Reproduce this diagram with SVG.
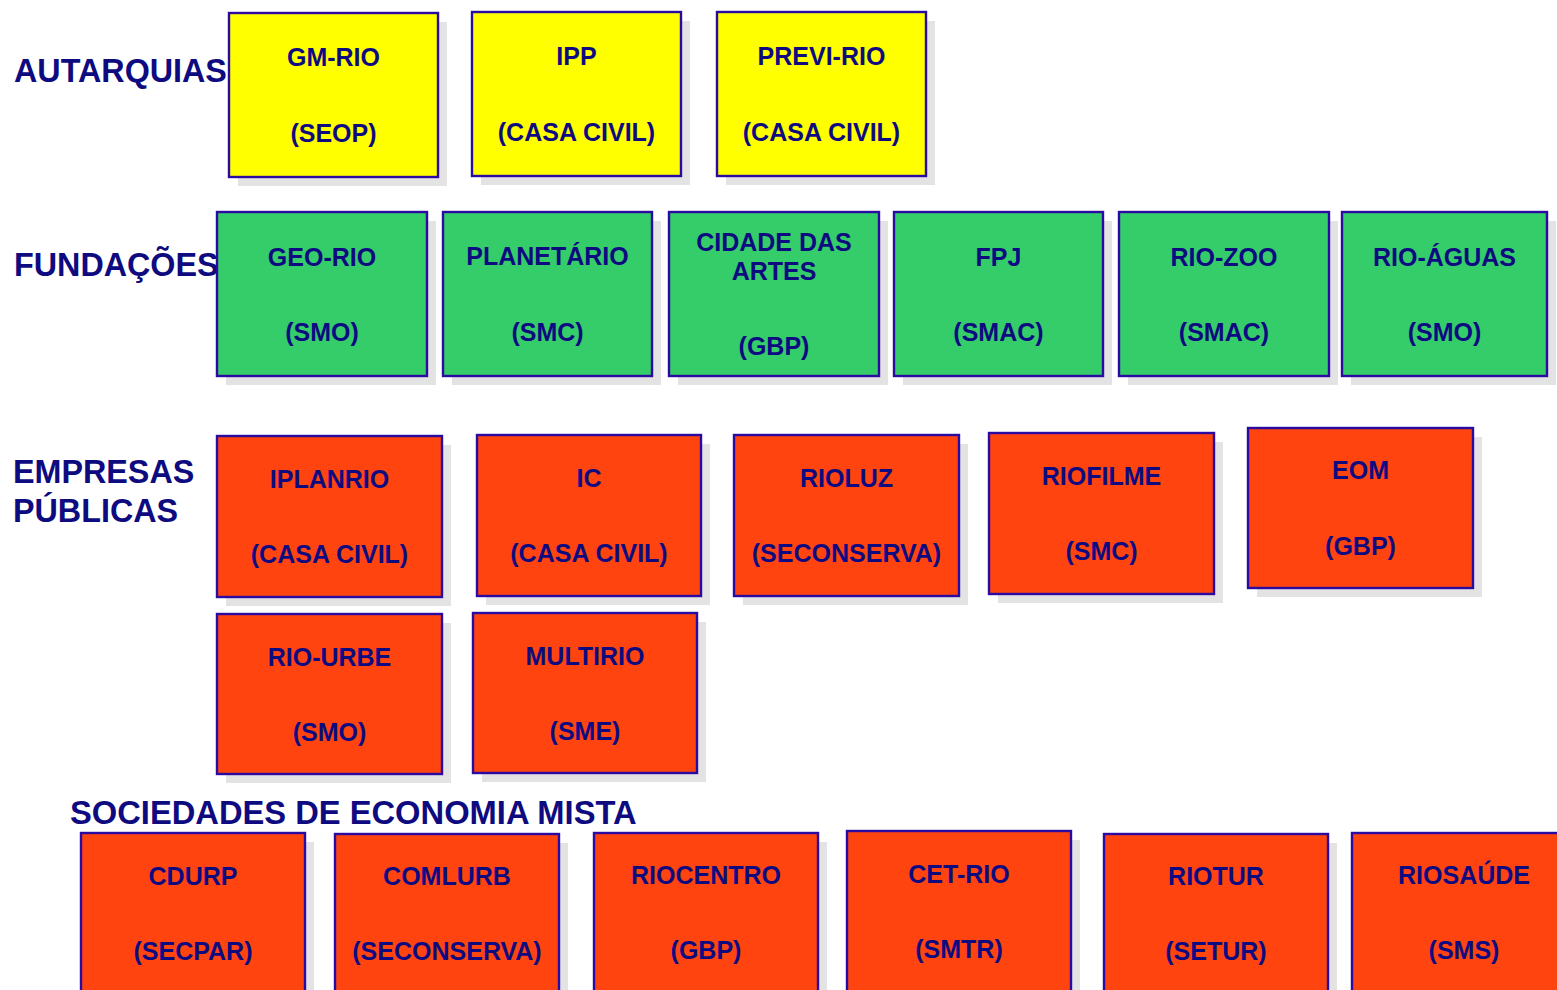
<svg xmlns="http://www.w3.org/2000/svg" width="1557" height="990" viewBox="0 0 1557 990">
<style>
.sh{fill:#e3e3e3}
.bx{stroke:#2a0aa0;stroke-width:2.4}
.y{fill:#ffff00}
.g{fill:#35cc6a}
.r{fill:#ff4410}
.t{font-family:"Liberation Sans",Arial,sans-serif;font-weight:bold;font-size:25px;fill:#0e0a80;text-anchor:middle}
.h{font-family:"Liberation Sans",Arial,sans-serif;font-weight:bold;font-size:32.3px;fill:#0e0a80}
</style>
<rect width="1557" height="990" fill="#ffffff"/>
<g id="labels">
<text class="h" x="14" y="82">AUTARQUIAS</text>
<text class="h" x="14" y="276">FUNDAÇÕES</text>
<text class="h" x="13" y="483">EMPRESAS</text>
<text class="h" x="13" y="522">PÚBLICAS</text>
<text class="h" x="70" y="824" style="font-size:32.7px">SOCIEDADES DE ECONOMIA MISTA</text>
</g>
<g id="connectors"></g>
<g id="gm-rio"><rect class="sh" x="238" y="22" width="209" height="164"/><rect class="bx y" x="229" y="13" width="209" height="164"/><text class="t" x="333.5" y="66">GM-RIO</text><text class="t" x="333.5" y="142">(SEOP)</text></g>
<g id="ipp"><rect class="sh" x="481" y="21" width="209" height="164"/><rect class="bx y" x="472" y="12" width="209" height="164"/><text class="t" x="576.5" y="65">IPP</text><text class="t" x="576.5" y="141">(CASA CIVIL)</text></g>
<g id="previ-rio"><rect class="sh" x="726" y="21" width="209" height="164"/><rect class="bx y" x="717" y="12" width="209" height="164"/><text class="t" x="821.5" y="65">PREVI-RIO</text><text class="t" x="821.5" y="141">(CASA CIVIL)</text></g>

<g id="geo-rio"><rect class="sh" x="226" y="221" width="210" height="164"/><rect class="bx g" x="217" y="212" width="210" height="164"/><text class="t" x="322" y="266">GEO-RIO</text><text class="t" x="322" y="341">(SMO)</text></g>
<g id="planetario"><rect class="sh" x="452" y="221" width="209" height="164"/><rect class="bx g" x="443" y="212" width="209" height="164"/><text class="t" x="547.5" y="265">PLANETÁRIO</text><text class="t" x="547.5" y="341">(SMC)</text></g>
<g id="cidade-das-artes"><rect class="sh" x="678" y="221" width="210" height="164"/><rect class="bx g" x="669" y="212" width="210" height="164"/><text class="t" x="774" y="251">CIDADE DAS</text><text class="t" x="774" y="280">ARTES</text><text class="t" x="774" y="355">(GBP)</text></g>
<g id="fpj"><rect class="sh" x="903" y="221" width="209" height="164"/><rect class="bx g" x="894" y="212" width="209" height="164"/><text class="t" x="998.5" y="266">FPJ</text><text class="t" x="998.5" y="341">(SMAC)</text></g>
<g id="rio-zoo"><rect class="sh" x="1128" y="221" width="210" height="164"/><rect class="bx g" x="1119" y="212" width="210" height="164"/><text class="t" x="1224" y="266">RIO-ZOO</text><text class="t" x="1224" y="341">(SMAC)</text></g>
<g id="rio-aguas"><rect class="sh" x="1351" y="221" width="205" height="164"/><rect class="bx g" x="1342" y="212" width="205" height="164"/><text class="t" x="1444.5" y="266">RIO-ÁGUAS</text><text class="t" x="1444.5" y="341">(SMO)</text></g>

<g id="iplanrio"><rect class="sh" x="226" y="445" width="225" height="161"/><rect class="bx r" x="217" y="436" width="225" height="161"/><text class="t" x="329.5" y="488">IPLANRIO</text><text class="t" x="329.5" y="563">(CASA CIVIL)</text></g>
<g id="ic"><rect class="sh" x="486" y="444" width="224" height="161"/><rect class="bx r" x="477" y="435" width="224" height="161"/><text class="t" x="589" y="487">IC</text><text class="t" x="589" y="562">(CASA CIVIL)</text></g>
<g id="rioluz"><rect class="sh" x="743" y="444" width="225" height="161"/><rect class="bx r" x="734" y="435" width="225" height="161"/><text class="t" x="846.5" y="487">RIOLUZ</text><text class="t" x="846.5" y="562">(SECONSERVA)</text></g>
<g id="riofilme"><rect class="sh" x="998" y="442" width="225" height="161"/><rect class="bx r" x="989" y="433" width="225" height="161"/><text class="t" x="1101.5" y="485">RIOFILME</text><text class="t" x="1101.5" y="560">(SMC)</text></g>
<g id="eom"><rect class="sh" x="1257" y="437" width="225" height="160"/><rect class="bx r" x="1248" y="428" width="225" height="160"/><text class="t" x="1360.5" y="479">EOM</text><text class="t" x="1360.5" y="555">(GBP)</text></g>
<g id="rio-urbe"><rect class="sh" x="226" y="623" width="225" height="160"/><rect class="bx r" x="217" y="614" width="225" height="160"/><text class="t" x="329.5" y="666">RIO-URBE</text><text class="t" x="329.5" y="741">(SMO)</text></g>
<g id="multirio"><rect class="sh" x="482" y="622" width="224" height="160"/><rect class="bx r" x="473" y="613" width="224" height="160"/><text class="t" x="585" y="665">MULTIRIO</text><text class="t" x="585" y="740">(SME)</text></g>

<g id="cdurp"><rect class="sh" x="90" y="842" width="224" height="170"/><rect class="bx r" x="81" y="833" width="224" height="170"/><text class="t" x="193" y="885">CDURP</text><text class="t" x="193" y="960">(SECPAR)</text></g>
<g id="comlurb"><rect class="sh" x="344" y="843" width="224" height="170"/><rect class="bx r" x="335" y="834" width="224" height="170"/><text class="t" x="447" y="885">COMLURB</text><text class="t" x="447" y="960">(SECONSERVA)</text></g>
<g id="riocentro"><rect class="sh" x="603" y="842" width="224" height="170"/><rect class="bx r" x="594" y="833" width="224" height="170"/><text class="t" x="706" y="884">RIOCENTRO</text><text class="t" x="706" y="959">(GBP)</text></g>
<g id="cet-rio"><rect class="sh" x="856" y="840" width="224" height="170"/><rect class="bx r" x="847" y="831" width="224" height="170"/><text class="t" x="959" y="883">CET-RIO</text><text class="t" x="959" y="958">(SMTR)</text></g>
<g id="riotur"><rect class="sh" x="1113" y="843" width="224" height="170"/><rect class="bx r" x="1104" y="834" width="224" height="170"/><text class="t" x="1216" y="885">RIOTUR</text><text class="t" x="1216" y="960">(SETUR)</text></g>
<g id="riosaude"><rect class="sh" x="1361" y="842" width="224" height="170"/><rect class="bx r" x="1352" y="833" width="224" height="170"/><text class="t" x="1464" y="884">RIOSAÚDE</text><text class="t" x="1464" y="959">(SMS)</text></g>
</svg>
